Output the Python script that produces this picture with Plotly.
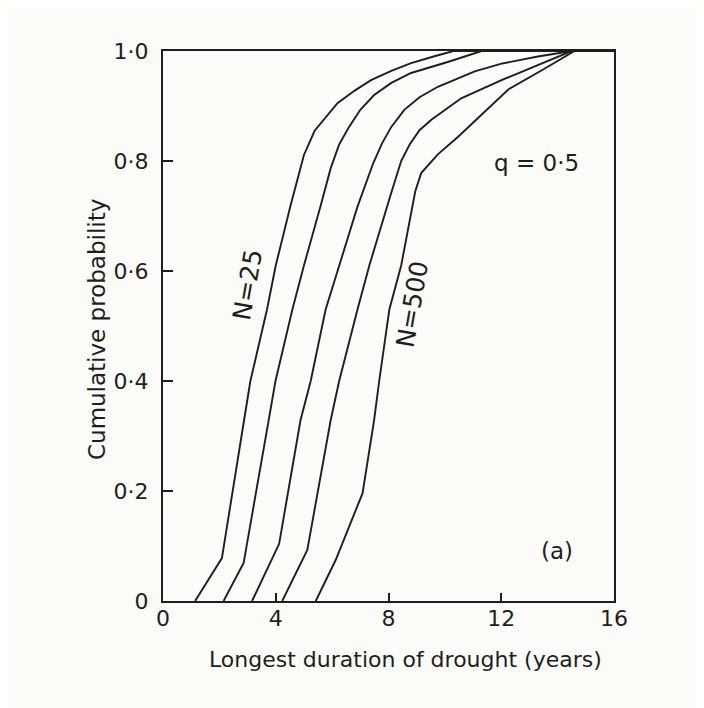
import plotly.graph_objects as go

# Longest duration of drought (years) vs cumulative probability, q = 0.5
n25_x = [1.14, 2.09, 2.88, 3.10, 3.69, 4.00, 4.53, 5.00, 5.38, 5.80, 6.19, 6.80, 7.38, 8.10, 8.80, 9.60, 10.30, 16.0]
n25_p = [0.0, 0.078, 0.33, 0.40, 0.53, 0.61, 0.72, 0.811, 0.855, 0.882, 0.905, 0.928, 0.947, 0.964, 0.978, 0.990, 1.0, 1.0]

n50_x = [2.15, 2.86, 3.75, 3.99, 4.59, 5.00, 5.60, 5.95, 6.25, 6.60, 7.00, 7.49, 8.10, 8.80, 10.10, 11.30, 16.0]
n50_p = [0.0, 0.069, 0.329, 0.40, 0.53, 0.61, 0.72, 0.787, 0.830, 0.862, 0.893, 0.920, 0.942, 0.960, 0.980, 1.0, 1.0]

n100_x = [3.16, 4.12, 4.88, 5.24, 5.77, 6.25, 6.90, 7.45, 7.77, 8.10, 8.56, 9.10, 9.75, 11.06, 12.01, 13.30, 14.50, 16.0]
n100_p = [0.0, 0.104, 0.329, 0.40, 0.53, 0.61, 0.717, 0.795, 0.832, 0.862, 0.893, 0.916, 0.935, 0.963, 0.977, 0.990, 1.0, 1.0]

n200_x = [4.23, 5.12, 5.95, 6.25, 6.90, 7.32, 8.09, 8.45, 8.75, 9.10, 9.52, 10.58, 12.01, 13.30, 14.50, 16.0]
n200_p = [0.0, 0.093, 0.329, 0.40, 0.53, 0.61, 0.741, 0.800, 0.830, 0.856, 0.875, 0.914, 0.947, 0.975, 1.0, 1.0]

n500_x = [5.42, 6.13, 7.08, 7.49, 7.67, 8.03, 8.45, 8.95, 9.16, 9.75, 10.47, 11.10, 12.25, 13.44, 14.20, 14.60, 16.0]
n500_p = [0.0, 0.075, 0.196, 0.329, 0.40, 0.53, 0.61, 0.745, 0.778, 0.812, 0.844, 0.875, 0.930, 0.965, 0.988, 1.0, 1.0]

series = [(n25_x, n25_p), (n50_x, n50_p), (n100_x, n100_p), (n200_x, n200_p), (n500_x, n500_p)]

x_ticks = [0, 4, 8, 12, 16]
x_ticktext = ["0", "4", "8", "12", "16"]
y_ticks = [0, 0.2, 0.4, 0.6, 0.8, 1.0]
y_ticktext = ["0", "0·2", "0·4", "0·6", "0·8", "1·0"]

FONT = "DejaVu Sans"
INK = "#1e1e1e"
BG = "#fbfbf8"

fig = go.Figure()
for xs, ps in series:
    fig.add_trace(go.Scatter(x=xs, y=ps, mode="lines",
                             line=dict(color=INK, width=1.9),
                             showlegend=False, hoverinfo="skip"))

fig.update_layout(
    width=704, height=708,
    margin=dict(l=155, r=98, t=43, b=115),
    paper_bgcolor=BG,
    plot_bgcolor=BG,
    font=dict(family=FONT, color=INK, size=22),
    xaxis=dict(range=[0, 16], tickvals=x_ticks, ticktext=x_ticktext,
               showgrid=False, zeroline=False, showline=True, mirror=True,
               linecolor=INK, linewidth=2, ticks="inside", ticklen=8,
               tickwidth=1.5, tickcolor=INK, ticklabelstandoff=-3,
               tickfont=dict(size=22, family=FONT, color=INK)),
    yaxis=dict(range=[0, 1.0], tickvals=y_ticks, ticktext=y_ticktext,
               showgrid=False, zeroline=False, showline=True, mirror=True,
               linecolor=INK, linewidth=2, ticks="inside", ticklen=10,
               tickwidth=1.5, tickcolor=INK, ticklabelstandoff=8,
               tickfont=dict(size=22, family=FONT, color=INK)),
)

annotations = [
    dict(text="Longest duration of drought (years)", xref="paper", yref="paper",
         x=0.537, y=-0.107, xanchor="center", yanchor="middle", showarrow=False,
         font=dict(size=22, family=FONT, color=INK)),
    dict(text="Cumulative probability", xref="paper", yref="paper",
         x=-0.146, y=0.493, xanchor="center", yanchor="middle", textangle=-90,
         showarrow=False, font=dict(size=23, family=FONT, color=INK)),
    dict(text="N=25", x=3.01, y=0.575, xref="x", yref="y", textangle=-80,
         xanchor="center", yanchor="middle",
         showarrow=False, font=dict(size=25, family=FONT, color=INK)),
    dict(text="N=500", x=8.83, y=0.54, xref="x", yref="y", textangle=-80,
         xanchor="center", yanchor="middle",
         showarrow=False, font=dict(size=25, family=FONT, color=INK)),
    dict(text="q = 0·5", x=13.26, y=0.796, xref="x", yref="y",
         xanchor="center", yanchor="middle",
         showarrow=False, font=dict(size=23, family=FONT, color=INK)),
    dict(text="(a)", x=13.97, y=0.091, xref="x", yref="y",
         xanchor="center", yanchor="middle",
         showarrow=False, font=dict(size=23, family=FONT, color=INK)),
]
fig.update_layout(annotations=annotations)

fig.write_html("out.html")
